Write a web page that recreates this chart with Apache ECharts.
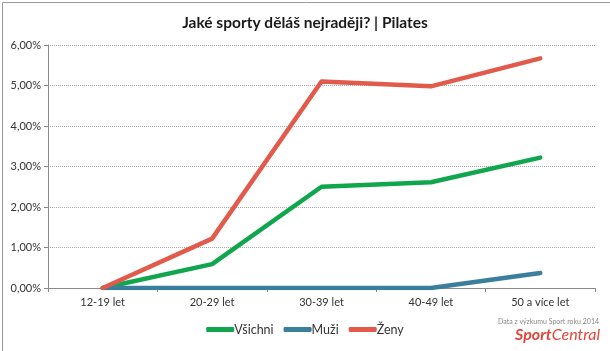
<!DOCTYPE html>
<html>
<head>
<meta charset="utf-8">
<script src="https://cdn.jsdelivr.net/npm/echarts@6/dist/echarts.min.js"></script>
<style>
  html, body { margin: 0; padding: 0; background: #fff; }
  #chart { width: 610px; height: 351px; }
</style>
</head>
<body>
<div id="chart"></div>
<script>
const categories = ['12-19 let', '20-29 let', '30-39 let', '40-49 let', '50 a více let']
const vsichni = [0, 0.59, 2.50, 2.61, 3.22]
const muzi = [0, 0, 0, 0, 0.37]
const zeny = [0, 1.22, 5.10, 4.98, 5.67]
const yTicks = [0, 1, 2, 3, 4, 5, 6]

const chart = echarts.init(document.getElementById('chart'))
const font = 'Lato, Open Sans, sans-serif'

function lineSeries(name, data, color) {
  return {
    name: name,
    type: 'line',
    data: data,
    symbol: 'none',
    smooth: false,
    lineStyle: { width: 4.5, color: color, cap: 'round', join: 'round' },
    itemStyle: { color: color }
  }
}

const option = {
  animation: false,
  title: {
    text: 'Jaké sporty děláš nejraději? | Pilates',
    left: 'center',
    top: 10,
    textStyle: { fontFamily: font, fontSize: 15.5, fontWeight: 'bold', color: '#1a1a1a' }
  },
  grid: { left: 48, right: 15, top: 45, bottom: 63 },
  legend: {
    bottom: 10,
    left: 'center',
    itemWidth: 28,
    itemHeight: 5,
    itemGap: 10,
    icon: 'roundRect',
    textStyle: { fontFamily: font, fontSize: 12.5, color: '#333', padding: [0, 0, 0, -5] },
    data: ['Všichni', 'Muži', 'Ženy']
  },
  xAxis: {
    type: 'category',
    data: categories,
    boundaryGap: true,
    axisLine: { lineStyle: { color: '#8a8a8a', width: 1 } },
    axisTick: { show: true, length: 4, inside: false, lineStyle: { color: '#8a8a8a' } },
    axisLabel: { fontFamily: font, fontSize: 11, color: '#333', margin: 9 }
  },
  yAxis: {
    type: 'value',
    min: yTicks[0],
    max: yTicks[yTicks.length - 1],
    interval: 1,
    axisLine: { show: true, lineStyle: { color: '#8a8a8a', width: 1 } },
    axisTick: { show: true, length: 4, lineStyle: { color: '#8a8a8a' } },
    axisLabel: {
      fontFamily: font, fontSize: 11, color: '#333', margin: 7,
      formatter: v => v.toFixed(2).replace('.', ',') + '%'
    },
    splitLine: { lineStyle: { color: '#a8a8a8', type: [1, 1], width: 1 } }
  },
  graphic: [
    {
      type: 'rect', left: 0, top: 0, silent: true,
      shape: { x: 0.5, y: 0.5, width: 608, height: 349 },
      style: { fill: 'none', stroke: '#9a9a9a', lineWidth: 1 }
    },
    {
      type: 'text', right: 11, top: 318,
      style: { text: 'Data z výzkumu Sport roku 2014', fontFamily: font, fontSize: 7, fill: '#888' }
    },
    {
      type: 'text', right: 10, top: 327,
      style: {
        text: '{b|Sport}{n|Central}',
        rich: {
          b: { fontFamily: font, fontSize: 16, fontWeight: 'bold', fontStyle: 'italic', fill: '#e2463b' },
          n: { fontFamily: font, fontSize: 16, fontStyle: 'italic', fill: '#e2463b' }
        }
      }
    }
  ],
  series: [
    lineSeries('Všichni', vsichni, '#10a64e'),
    lineSeries('Muži', muzi, '#3b7f9c'),
    lineSeries('Ženy', zeny, '#e25a4c')
  ]
}

chart.setOption(option)
</script>
</body>
</html>
